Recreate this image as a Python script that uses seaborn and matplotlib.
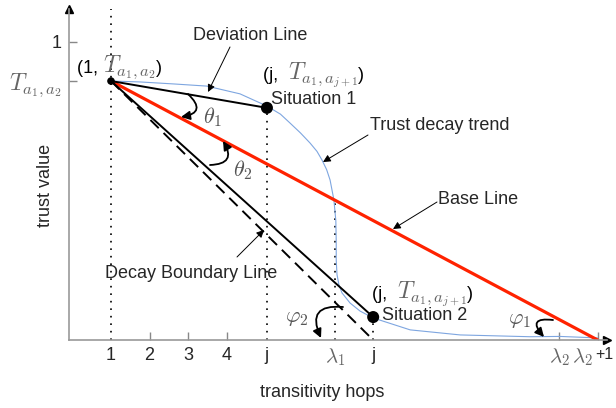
import numpy as np
import pandas as pd
import seaborn as sns
import matplotlib
matplotlib.use("Agg")
import matplotlib.pyplot as plt

sns.set_style("white")
plt.rcParams['font.family'] = ['Liberation Sans', 'DejaVu Sans']
plt.rcParams['mathtext.fontset'] = 'cm'

# ---- data (schematic values) ----
T_start = 0.869                 # T_{a1,a2} at hop 1
j1, T_j1 = 5.05, 0.779          # situation 1
j2, T_j2 = 7.81, 0.077          # situation 2
lam1 = 6.82
lam2 = 12.64
lam2_1 = 13.64                  # lambda2 + 1, end of base line

curve_x = [1.0, 1.75, 2.66, 3.49, 4.35, 5.05, 5.40, 5.65, 5.92, 6.17, 6.35,
           6.48, 6.60, 6.69, 6.79, 6.84, 6.85, 6.85, 6.87, 6.92, 7.00, 7.21,
           7.47, 7.81, 8.77, 10.07, 11.88, 12.66, 13.64]
curve_y = [0.869, 0.866, 0.859, 0.852, 0.826, 0.785, 0.758, 0.728, 0.695,
           0.661, 0.633, 0.604, 0.572, 0.537, 0.470, 0.400, 0.330, 0.268,
           0.220, 0.185, 0.158, 0.124, 0.097, 0.074, 0.034, 0.017, 0.011,
           0.012, 0.007]

x_ticks = [1, 2, 3, 4, j1, lam1, j2, lam2, lam2_1]
x_labels = ["1", "2", "3", "4", "j", r"$\lambda_1$", "j", r"$\lambda_2$", ""]
y_ticks = [1.0, T_start]
y_labels = ["1", r"$T_{a_1,a_2}$"]


def px(x, y):
    # pixel position in the 616x408 picture -> data coords (for labels only)
    return 1 + (x - 111) / 38.5, (340 - y) / 298


fig = plt.figure(figsize=(6.16, 4.08), dpi=100)
ax = fig.add_axes([69 / 616, 68 / 408, 538 / 616, 331 / 408])
ax.set_xlim(px(69, 0)[0], px(607, 0)[0])
ax.set_ylim(0, px(0, 9)[1])

gray = "#999999"
for s in ["top", "right"]:
    ax.spines[s].set_visible(False)
for s in ["left", "bottom"]:
    ax.spines[s].set_color(gray)
    ax.spines[s].set_linewidth(1.2)

# axis arrow heads
ax.plot(1, 0, ">", color="black", ms=6, transform=ax.transAxes, clip_on=False)
ax.plot(0, 1, "^", color="black", ms=6, transform=ax.transAxes, clip_on=False)

# dotted guides
red_at_lam1 = T_start * (lam2_1 - lam1) / (lam2_1 - 1)
for xv, yv in [(1, px(0, 9)[1]), (j1, T_j1), (lam1, red_at_lam1), (j2, T_j2)]:
    sns.lineplot(x=[xv, xv], y=[0, yv], ax=ax, color="black", lw=1.2,
                 linestyle=(0, (1, 3.5)), estimator=None, sort=False)

# trust decay trend curve
sns.lineplot(x=curve_x, y=curve_y, ax=ax, color="#7ea6e0", lw=0.8,
             estimator=None, sort=False)
# base line
sns.lineplot(x=[1, lam2_1], y=[T_start, 0], ax=ax, color="#ff2200", lw=2.3,
             estimator=None, sort=False)
# deviation lines
sns.lineplot(x=[1, j1], y=[T_start, T_j1], ax=ax, color="black", lw=1.4,
             estimator=None, sort=False)
sns.lineplot(x=[1, j2], y=[T_start, T_j2], ax=ax, color="black", lw=1.4,
             estimator=None, sort=False)
# decay boundary line
sns.lineplot(x=[1, j2], y=[T_start, 0], ax=ax, color="black", lw=1.4,
             linestyle=(0, (6, 3.5)), estimator=None, sort=False)

sns.scatterplot(x=[1], y=[T_start], ax=ax, color="black", s=30, zorder=5,
                edgecolor="none")
sns.scatterplot(x=[j1, j2], y=[T_j1, T_j2], ax=ax, color="black", s=75,
                zorder=5, edgecolor="none")

# ticks
ax.set_xticks(x_ticks, x_labels)
ax.set_yticks(y_ticks, y_labels)
ax.tick_params(axis="both", direction="in", length=6, width=1, color="#888888",
               labelsize=13, pad=5, bottom=True, left=True)
for i, t in enumerate(ax.xaxis.get_major_ticks()):
    if i in (0, 4, 5, 6):
        t.tick1line.set_visible(False)
for i in (5, 7):
    ax.get_xticklabels()[i].set_color("#666666")
    ax.get_xticklabels()[i].set_fontsize(15)
ax.get_yticklabels()[1].set_color("#666666")
ax.get_yticklabels()[1].set_fontsize(17)
ax.annotate(r"$\lambda_2$", xy=(lam2_1, 0), xycoords=ax.get_xaxis_transform(),
            xytext=(-3.5, -5), textcoords="offset points", ha="right", va="top",
            fontsize=15, color="#666666")
ax.annotate("+1", xy=(lam2_1, 0), xycoords=ax.get_xaxis_transform(),
            xytext=(-1.5, -5), textcoords="offset points", ha="left", va="top",
            fontsize=11.5)

ax.set_xlabel("transitivity hops", fontsize=13)
ax.set_ylabel("trust value", fontsize=13)
ax.xaxis.set_label_coords(0.47, -0.134)
ax.yaxis.set_label_coords(-0.027, 0.466)


def chain_text(x, y, parts):
    # pieces of one label in different colours, set one after the other
    t = ax.text(x, y, parts[0][0], color=parts[0][1], fontsize=parts[0][2],
                ha="left", va="bottom")
    for s, c, fs, dy in parts[1:]:
        t = ax.annotate(s, xy=(1, 0), xycoords=t, xytext=(0, dy),
                        textcoords="offset points", ha="left", va="bottom",
                        color=c, fontsize=fs)


chain_text(*px(77, 77), [("(1, ", "black", 13),
                         (r"$T_{a_1,a_2}$", "#666666", 17, -3), (")", "black", 13, 3)])
chain_text(*px(263, 84), [("(j,  ", "black", 13),
                          (r"$T_{a_1,a_{j+1}}$", "#666666", 17, -4), (")", "black", 13, 4)])
chain_text(*px(372, 303), [("(j,  ", "black", 13),
                           (r"$T_{a_1,a_{j+1}}$", "#666666", 17, -4), (")", "black", 13, 4)])

labels = [("Deviation Line", (193, 35)), ("Situation 1", (271, 99)),
          ("Trust decay trend", (370, 125)), ("Base Line", (438, 200)),
          ("Decay Boundary Line", (105, 273)), ("Situation 2", (382, 316))]
for txt, (lx, ly) in labels:
    ax.text(*px(lx, ly), txt, fontsize=13, ha="left", va="center")

thin = dict(arrowstyle="-|>", color="black", lw=0.7, mutation_scale=11,
            shrinkA=0, shrinkB=0)
for a, b in [((230, 47), (208, 92)), ((368, 135), (323, 162)),
             ((437, 202), (393, 229)), ((237, 257), (264, 230))]:
    ax.annotate("", xy=px(*b), xytext=px(*a), arrowprops=thin)

# angle markers
for a, b, rad in [((188, 94), (181, 117), -1.0), ((210, 165), (223, 141), 0.85),
                  ((343, 307), (321, 338), 0.85), ((553, 320), (544, 337), 1.3)]:
    ax.annotate("", xy=px(*b), xytext=px(*a),
                arrowprops=dict(arrowstyle="-|>", color="black", lw=1.3,
                                mutation_scale=13, shrinkA=0, shrinkB=0,
                                connectionstyle=f"arc3,rad={rad}"))
for txt, (lx, ly) in [(r"$\theta_1$", (212, 117)), (r"$\theta_2$", (243, 170)),
                      (r"$\varphi_2$", (297, 318)), (r"$\varphi_1$", (520, 320))]:
    ax.text(*px(lx, ly), txt, fontsize=16, ha="center", va="center",
            color="#555555")

fig.savefig("out.png", dpi=100)
